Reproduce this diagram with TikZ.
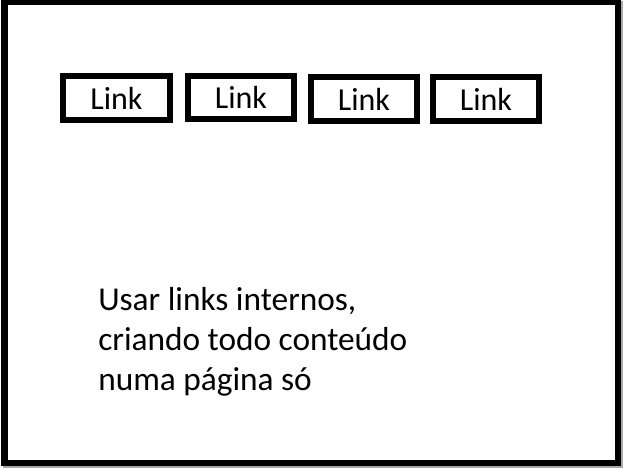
\documentclass[tikz,border=0pt]{standalone}
\usepackage{fontspec}
\setmainfont{Carlito}
\usepackage{tikz}
\usetikzlibrary{positioning}

\begin{document}
\begin{tikzpicture}[
  x=0.75pt, y=-0.75pt,
  frame/.style={draw, line width=4.5pt, minimum width=459.75pt, minimum height=345.4pt, inner sep=0pt},
  linkbox/.style={draw, line width=4.5pt, minimum width=80pt, minimum height=32.5pt, inner sep=0pt, font=\fontsize{24}{29}\selectfont},
  note/.style={align=left, inner sep=0pt, font=\fontsize{25}{30}\selectfont}
]
\useasboundingbox (0,0) rectangle (626,469);

\node[frame, draw=black!35] (shadow) at (313,234.75) {};
\node[frame, fill=white] (page) at (311,232.75) {};

\node[linkbox] (link1) at (116.5, 98) {Link};
\node[linkbox] (link2) at (241, 97.5) {Link};
\node[linkbox] (link3) at (364, 99) {Link};
\node[linkbox] (link4) at (486, 99) {Link};

\node[note, anchor=base west] (note) at (98, 390) {Usar links internos,\\criando todo conteúdo\\numa página só};

\end{tikzpicture}
\end{document}
